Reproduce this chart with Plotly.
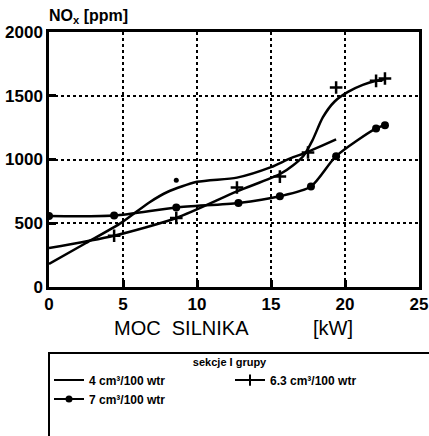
import plotly.graph_objects as go

# ---------------- data ----------------
# series "4 cm3/100 wtr": measured point + fitted curve
x_4_pts = [8.6]
y_4_pts = [837]
x_4_fit = [0, 2.5, 4.9, 6.8, 8.0, 10.0, 12.7, 15.0, 16.3, 17.4, 19.4]
y_4_fit = [181, 345, 505, 665, 745, 825, 858, 940, 1009, 1055, 1157]

# series "6.3 cm3/100 wtr"
x_63_pts = [4.4, 8.6, 12.7, 15.6, 17.5, 19.4, 22.1, 22.7]
y_63_pts = [402, 541, 780, 866, 1055, 1565, 1617, 1635]
x_63_fit = [0, 4.4, 8.6, 12.7, 15.6, 16.5, 17.2, 17.8, 18.5, 19.3, 20.2, 21.2, 22.1, 22.7]
y_63_fit = [305, 402, 541, 750, 885, 955, 1030, 1150, 1330, 1455, 1530, 1585, 1617, 1630]

# series "7 cm3/100 wtr"
x_7_pts = [0, 4.4, 8.6, 12.8, 15.6, 17.7, 19.4, 22.1, 22.7]
y_7_pts = [556, 560, 624, 659, 712, 788, 1026, 1244, 1268]

names = ["4 cm³/100 wtr", "6.3 cm³/100 wtr", "7 cm³/100 wtr"]
x_ticks = [0, 5, 10, 15, 20, 25]
y_ticks = [0, 500, 1000, 1500, 2000]

FONT = "Liberation Sans, Arial, sans-serif"
BLK = "black"

fig = go.Figure()

spl = dict(color=BLK, width=2.5, shape="spline", smoothing=0.7)
# curves
fig.add_trace(go.Scatter(x=x_4_fit, y=y_4_fit, mode="lines", line=spl, showlegend=False, hoverinfo="skip"))
fig.add_trace(go.Scatter(x=x_63_fit, y=y_63_fit, mode="lines", line=spl, showlegend=False, hoverinfo="skip"))
fig.add_trace(go.Scatter(x=x_7_pts, y=y_7_pts, mode="lines", line=spl, showlegend=False, hoverinfo="skip"))

# markers
fig.add_trace(go.Scatter(x=x_4_pts, y=y_4_pts, mode="markers", marker=dict(color=BLK, size=5),
                         showlegend=False))
fig.add_trace(go.Scatter(x=x_63_pts, y=y_63_pts, mode="markers",
                         marker=dict(symbol="cross-thin", size=9, line=dict(color=BLK, width=2.5)),
                         showlegend=False))
fig.add_trace(go.Scatter(x=x_7_pts, y=y_7_pts, mode="markers", marker=dict(color=BLK, size=8),
                         showlegend=False))

# legend entries
fig.add_trace(go.Scatter(x=[None], y=[None], mode="lines", name=names[0],
                         line=dict(color=BLK, width=2)))
fig.add_trace(go.Scatter(x=[None], y=[None], mode="lines+markers", name=names[1],
                         line=dict(color=BLK, width=2),
                         marker=dict(symbol="cross-thin", size=8, line=dict(color=BLK, width=2))))
fig.add_trace(go.Scatter(x=[None], y=[None], mode="lines+markers", name=names[2],
                         line=dict(color=BLK, width=2), marker=dict(color=BLK, size=7)))

axis_common = dict(
    showline=True, linecolor=BLK, linewidth=2.5, mirror=True,
    showgrid=True, gridcolor=BLK, gridwidth=1.5, griddash="dot",
    ticks="inside", ticklen=7, tickwidth=2.5, tickcolor=BLK,
    zeroline=False, automargin=False,
    tickfont=dict(family=FONT, size=17, color=BLK, weight="bold"),
)

fig.update_xaxes(range=[0, 25], tickvals=x_ticks, **axis_common)
fig.update_yaxes(range=[0, 2000], tickvals=y_ticks, ticklabelstandoff=0, **axis_common)

fig.update_layout(
    width=429, height=436,
    margin=dict(l=49, r=10, t=32, b=149, autoexpand=False),
    paper_bgcolor="white", plot_bgcolor="white",
    font=dict(family=FONT, color=BLK),
    legend=dict(
        orientation="h", x=0.0, xanchor="left", y=-0.252, yanchor="top",
        entrywidth=136, itemwidth=30,
        bgcolor="rgba(0,0,0,0)", borderwidth=0,
        font=dict(family=FONT, size=12, color=BLK, weight="bold"),
        title=dict(text="sekcje I grupy", side="top center",
                   font=dict(family=FONT, size=11, color=BLK, weight="bold")),
        tracegroupgap=0,
    ),
    shapes=[dict(type="rect", xref="paper", yref="paper",
                 x0=0.0, x1=1.04, y0=-0.6, y1=-0.259,
                 line=dict(color=BLK, width=2))],
    annotations=[
        dict(text="NO<sub>x</sub> [ppm]", xref="paper", yref="paper", x=-0.005, y=1.015,
             xanchor="left", yanchor="bottom", showarrow=False,
             font=dict(family=FONT, size=16, color=BLK, weight="bold")),
        dict(text="MOC  SILNIKA", xref="paper", yref="paper", x=(181 - 49) / 370, y=-0.16,
             xanchor="center", yanchor="middle", showarrow=False,
             font=dict(family=FONT, size=20, color=BLK)),
        dict(text="[kW]", xref="paper", yref="paper", x=(333 - 49) / 370, y=-0.16,
             xanchor="center", yanchor="middle", showarrow=False,
             font=dict(family=FONT, size=20, color=BLK)),
    ],
)

fig.write_html("out.html")
